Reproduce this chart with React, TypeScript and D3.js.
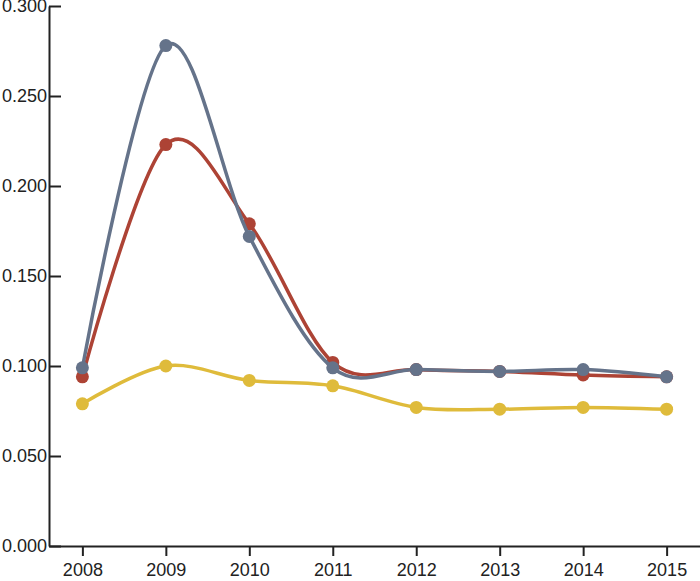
import React, { useEffect, useRef } from "react";
import * as d3 from "d3";

const years = ["2008", "2009", "2010", "2011", "2012", "2013", "2014", "2015"];
const greyValues = [0.099, 0.278, 0.172, 0.099, 0.098, 0.097, 0.098, 0.094];
const redValues = [0.094, 0.223, 0.179, 0.102, 0.098, 0.097, 0.095, 0.094];
const yellowValues = [0.079, 0.1, 0.092, 0.089, 0.077, 0.076, 0.077, 0.076];
const yTicks = [0, 0.05, 0.1, 0.15, 0.2, 0.25, 0.3];

const series = [
  { name: "yellow", values: yellowValues, color: "#dfbb3b" },
  { name: "red", values: redValues, color: "#ad4335" },
  { name: "grey", values: greyValues, color: "#65738a" },
];

const W = 700;
const H = 581;

const App = () => {
  const ref = useRef<SVGSVGElement | null>(null);

  useEffect(() => {
    const svg = d3.select(ref.current);
    svg.selectAll("*").remove();

    const x = d3.scalePoint<string>().domain(years).range([49, 700]).padding(0.4);
    const y = d3.scaleLinear().domain([0, 0.3]).range([546, 6]);

    // y axis, ticks drawn inward
    const yAxis = svg
      .append("g")
      .attr("transform", "translate(49,0)")
      .call(
        d3
          .axisLeft(y)
          .tickValues(yTicks)
          .tickFormat(d3.format(".3f"))
          .tickSizeInner(-12)
          .tickSizeOuter(0)
          .tickPadding(2)
      );
    yAxis.select(".domain").attr("stroke", "#222").attr("stroke-width", 2);
    yAxis.selectAll(".tick line").attr("stroke", "#222").attr("stroke-width", 2);
    yAxis
      .selectAll(".tick text")
      .attr("fill", "#222")
      .style("font-family", "'Liberation Sans', Arial, sans-serif")
      .style("font-size", "18px");

    // x axis
    const xAxis = svg
      .append("g")
      .attr("transform", "translate(0,546)")
      .call(d3.axisBottom(x).tickSizeInner(10).tickSizeOuter(0).tickPadding(7));
    xAxis.select(".domain").attr("stroke", "#222").attr("stroke-width", 2);
    xAxis.selectAll(".tick line").attr("stroke", "#222").attr("stroke-width", 2);
    xAxis
      .selectAll(".tick text")
      .attr("fill", "#222")
      .style("font-family", "'Liberation Sans', Arial, sans-serif")
      .style("font-size", "18px");

    const line = d3
      .line<number>()
      .x((d, i) => x(years[i]) as number)
      .y((d) => y(d))
      .curve(d3.curveCardinal);

    series.forEach((s) => {
      svg
        .append("path")
        .datum(s.values)
        .attr("fill", "none")
        .attr("stroke", s.color)
        .attr("stroke-width", 3.5)
        .attr("d", line);

      svg
        .append("g")
        .selectAll("circle")
        .data(s.values)
        .enter()
        .append("circle")
        .attr("cx", (d, i) => x(years[i]) as number)
        .attr("cy", (d) => y(d))
        .attr("r", 6.5)
        .attr("fill", s.color);
    });
  }, []);

  return (
    <svg
      ref={ref}
      width={W}
      height={H}
      style={{ position: "absolute", left: 0, top: 0, background: "#fff" }}
    />
  );
};

export default App;
